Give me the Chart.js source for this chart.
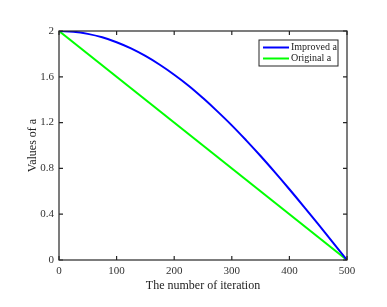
<!DOCTYPE html>
<html>
<head>
<meta charset="utf-8">
<script src="https://cdn.jsdelivr.net/npm/chart.js@4.4.0/dist/chart.umd.min.js"></script>
<style>
  html, body { margin: 0; padding: 0; background: #fff; }
  #wrap { width: 387px; height: 307px; }
</style>
</head>
<body>
<div id="wrap"><canvas id="aChart" width="387" height="307"></canvas></div>
<script>
// iterations and values
const iterations = [0, 25, 50, 75, 100, 125, 150, 175, 200, 225, 250, 275, 300, 325, 350, 375, 400, 425, 450, 475, 500];
const improvedA = [2, 1.994, 1.975, 1.945, 1.902, 1.848, 1.782, 1.705, 1.618, 1.522, 1.414, 1.298, 1.176, 1.045, 0.908, 0.765, 0.618, 0.467, 0.313, 0.157, 0];
const originalIter = [0, 500];
const originalA = [2, 0];
const xTicks = [0, 100, 200, 300, 400, 500];
const yTicks = [0, 0.4, 0.8, 1.2, 1.6, 2];

const serif = "'Liberation Serif', 'Times New Roman', serif";

// draws the matlab-like box, inward ticks and the legend inside the plot
const boxPlugin = {
    id: 'boxPlugin',
    afterDraw(chart) {
        const { ctx, chartArea: a, scales } = chart;
        ctx.save();
        ctx.strokeStyle = '#262626';
        ctx.lineWidth = 1.2;
        ctx.strokeRect(a.left, a.top, a.right - a.left, a.bottom - a.top);
        ctx.beginPath();
        xTicks.forEach(v => {
            const px = scales.x.getPixelForValue(v);
            ctx.moveTo(px, a.bottom); ctx.lineTo(px, a.bottom - 4);
            ctx.moveTo(px, a.top); ctx.lineTo(px, a.top + 4);
        });
        yTicks.forEach(v => {
            const py = scales.y.getPixelForValue(v);
            ctx.moveTo(a.left, py); ctx.lineTo(a.left + 4, py);
            ctx.moveTo(a.right, py); ctx.lineTo(a.right - 4, py);
        });
        ctx.stroke();

        // legend box
        const lx = a.right - 88, ly = a.top + 9, lw = 79, lh = 26;
        ctx.fillStyle = '#fff';
        ctx.fillRect(lx, ly, lw, lh);
        ctx.lineWidth = 1;
        ctx.strokeStyle = '#262626';
        ctx.strokeRect(lx, ly, lw, lh);
        ctx.font = '10px ' + serif;
        ctx.textBaseline = 'middle';
        chart.data.datasets.forEach((ds, i) => {
            const y = ly + 7.5 + i * 11;
            ctx.strokeStyle = ds.borderColor;
            ctx.lineWidth = 2;
            ctx.beginPath();
            ctx.moveTo(lx + 4, y); ctx.lineTo(lx + 30, y);
            ctx.stroke();
            ctx.fillStyle = '#222';
            ctx.fillText(ds.label, lx + 32, y);
        });
        ctx.restore();
    }
};

new Chart(document.getElementById('aChart'), {
    type: 'line',
    data: {
        datasets: [
            {
                label: 'Improved a',
                data: iterations.map((x, i) => ({ x: x, y: improvedA[i] })),
                borderColor: '#0000ff',
                borderWidth: 2,
                pointRadius: 0,
                tension: 0.4
            },
            {
                label: 'Original a',
                data: originalIter.map((x, i) => ({ x: x, y: originalA[i] })),
                borderColor: '#00ff00',
                borderWidth: 2,
                pointRadius: 0
            }
        ]
    },
    options: {
        responsive: false,
        animation: false,
        layout: { padding: { left: 26, top: 31, right: 40, bottom: 14 } },
        plugins: {
            legend: { display: false },
            tooltip: { enabled: false }
        },
        scales: {
            x: {
                type: 'linear',
                min: 0,
                max: 500,
                afterBuildTicks: (s) => { s.ticks = xTicks.map(v => ({ value: v })); },
                afterFit: (s) => { s.height = 33; },
                grid: { display: false, drawTicks: false },
                border: { display: false },
                ticks: { color: '#333', padding: 5, font: { family: serif, size: 11 }, callback: (v) => String(v) },
                title: { display: true, text: 'The number of iteration', color: '#222', padding: 0, font: { family: serif, size: 12 } }
            },
            y: {
                min: 0,
                max: 2,
                afterBuildTicks: (s) => { s.ticks = yTicks.map(v => ({ value: v })); },
                afterFit: (s) => { s.width = 33; },
                grid: { display: false, drawTicks: false },
                border: { display: false },
                ticks: { color: '#333', padding: 5, font: { family: serif, size: 11 }, callback: (v) => String(v) },
                title: { display: true, text: 'Values of a', color: '#222', padding: 0, font: { family: serif, size: 12 } }
            }
        }
    },
    plugins: [boxPlugin]
});
</script>
</body>
</html>
